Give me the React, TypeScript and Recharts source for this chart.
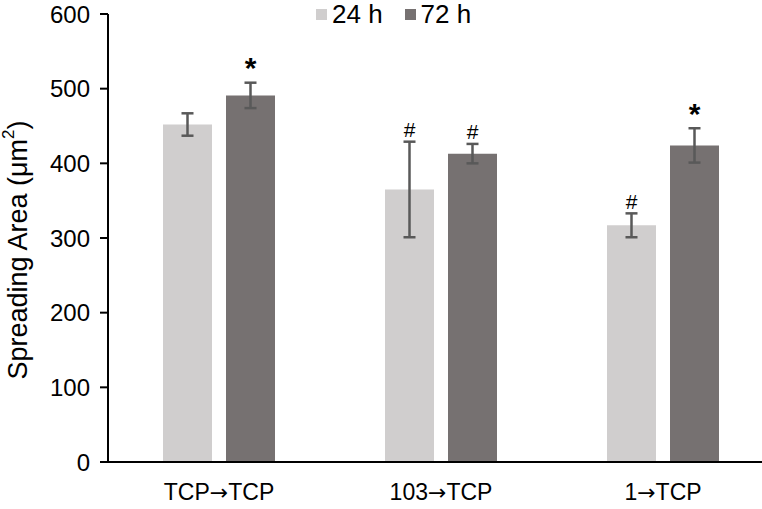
import { Bar, BarChart, ErrorBar, LabelList, Legend, XAxis, YAxis } from "recharts"

const groups = ["TCP→TCP", "103→TCP", "1→TCP"]
const mean24 = [452, 365, 317]
const err24 = [15, 64, 16]
const mean72 = [491, 413, 424]
const err72 = [17, 13, 23]
const mark24 = ["", "#", "#"]
const mark72 = ["*", "#", "*"]
const yTicks = [0, 100, 200, 300, 400, 500, 600]

const data = groups.map((g, i) => ({
  group: g,
  h24: mean24[i],
  e24: err24[i],
  m24: mark24[i],
  h72: mean72[i],
  e72: err72[i],
  m72: mark72[i],
}))

const LIGHT = "#d0cece"
const DARK = "#767171"
const ERR = "#595959"
const FONT = "'Liberation Sans', Arial, sans-serif"

// annotation above the error bar; pixel scale taken from the bar itself
const markLabel = (errs: number[], vals: number[]) => (props: any) => {
  const { x, y, width, height, value, index } = props
  if (!value) return null
  const pxPerUnit = height / vals[index]
  const top = y - errs[index] * pxPerUnit
  const star = value === "*"
  return (
    <text
      x={x + width / 2}
      y={top - (star ? 15 : 12)}
      textAnchor="middle"
      dominantBaseline="central"
      fontFamily={FONT}
      fontSize={star ? 30 : 21}
      fontWeight={star ? "bold" : "normal"}
      fill="#000"
    >
      {value}
    </text>
  )
}

// category label, arrow drawn with a font that has a full-width arrow
const GroupTick = (props: any) => {
  const { x, y, payload } = props
  const [a, b] = String(payload.value).split("→")
  return (
    <text x={x} y={y} dy={18} textAnchor="middle" fontFamily={FONT} fontSize={23} fill="#000">
      {a}
      <tspan fontFamily="'DejaVu Sans'" fontSize={22}>→</tspan>
      {b}
    </text>
  )
}

const YTitle = (props: any) => {
  const { viewBox } = props
  const cx = 18
  const cy = viewBox.y + viewBox.height / 2 + 12
  return (
    <text
      x={cx}
      y={cy}
      transform={`rotate(-90, ${cx}, ${cy})`}
      textAnchor="middle"
      dominantBaseline="central"
      fontFamily={FONT}
      fontSize={27}
      fill="#000"
    >
      Spreading Area (μm<tspan dy={-10} fontSize={17}>2</tspan>
      <tspan dy={10}>)</tspan>
    </text>
  )
}

const LegendBox = () => (
  <div style={{ display: "flex", alignItems: "center", fontFamily: FONT, fontSize: 26, lineHeight: "26px", color: "#000" }}>
    {[
      { name: "24 h", color: LIGHT },
      { name: "72 h", color: DARK },
    ].map((it) => (
      <div key={it.name} style={{ display: "flex", alignItems: "center", marginRight: 22 }}>
        <span style={{ width: 11, height: 11, background: it.color, display: "inline-block", marginRight: 5 }} />
        <span>{it.name}</span>
      </div>
    ))}
  </div>
)

export default function App() {
  return (
    <div style={{ position: "absolute", left: 0, top: 0, width: 762, height: 509, overflow: "hidden", background: "#fff" }}>
      <BarChart
        width={776}
        height={509}
        data={data}
        margin={{ top: 14, right: 2, left: 0, bottom: 0 }}
        barSize={49}
        barGap={14}
      >
        <XAxis
          dataKey="group"
          height={47}
          tickLine={false}
          axisLine={{ stroke: "#000", strokeWidth: 2 }}
          tick={<GroupTick />}
          tickMargin={14}
          interval={0}
        />
        <YAxis
          width={108}
          domain={[0, 600]}
          ticks={yTicks}
          interval={0}
          tickSize={8}
          tickMargin={10}
          axisLine={{ stroke: "#000", strokeWidth: 2 }}
          tickLine={{ stroke: "#000", strokeWidth: 2 }}
          tick={{ fill: "#000", fontSize: 24, fontFamily: FONT }}
          label={<YTitle />}
        />
        <Legend
          verticalAlign="middle"
          align="center"
          content={<LegendBox />}
          wrapperStyle={{ top: 1, left: 316, width: 220 }}
        />
        <Bar dataKey="h24" fill={LIGHT} isAnimationActive={false} name="24 h">
          <ErrorBar dataKey="e24" stroke={ERR} strokeWidth={2.5} width={6} />
          <LabelList dataKey="m24" content={markLabel(err24, mean24)} />
        </Bar>
        <Bar dataKey="h72" fill={DARK} isAnimationActive={false} name="72 h">
          <ErrorBar dataKey="e72" stroke={ERR} strokeWidth={2.5} width={6} />
          <LabelList dataKey="m72" content={markLabel(err72, mean72)} />
        </Bar>
      </BarChart>
    </div>
  )
}
